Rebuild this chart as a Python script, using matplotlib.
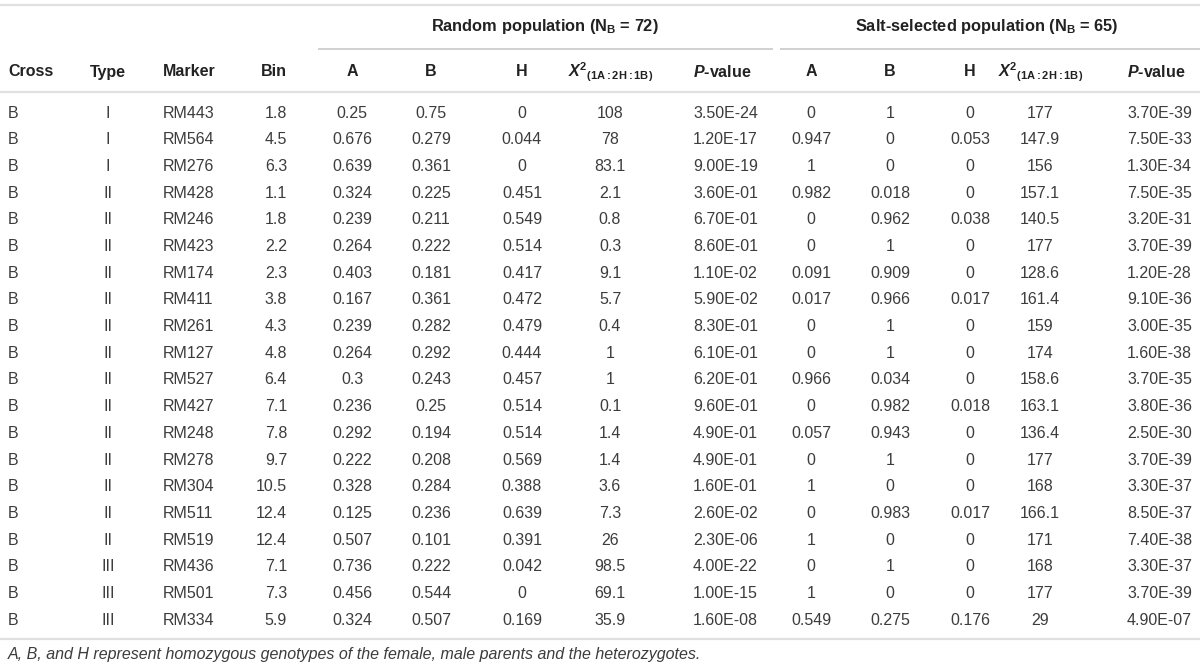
import matplotlib
matplotlib.use("Agg")
import matplotlib.pyplot as plt

plt.rcParams['font.family'] = ['Liberation Sans', 'DejaVu Sans']
plt.rcParams['mathtext.fontset'] = 'custom'
plt.rcParams['mathtext.rm'] = 'Liberation Sans'
plt.rcParams['mathtext.it'] = 'Liberation Sans:italic'
plt.rcParams['mathtext.bf'] = 'Liberation Sans:bold'
plt.rcParams['mathtext.bfit'] = 'Liberation Sans:bold:italic'

# ---------------- data ----------------
cross = ["B"] * 20
types = ["I", "I", "I"] + ["II"] * 14 + ["III"] * 3
markers = ["RM443", "RM564", "RM276", "RM428", "RM246", "RM423", "RM174", "RM411",
           "RM261", "RM127", "RM527", "RM427", "RM248", "RM278", "RM304", "RM511",
           "RM519", "RM436", "RM501", "RM334"]
bins = ["1.8", "4.5", "6.3", "1.1", "1.8", "2.2", "2.3", "3.8", "4.3", "4.8", "6.4",
        "7.1", "7.8", "9.7", "10.5", "12.4", "12.4", "7.1", "7.3", "5.9"]

rand_A = ["0.25", "0.676", "0.639", "0.324", "0.239", "0.264", "0.403", "0.167", "0.239",
          "0.264", "0.3", "0.236", "0.292", "0.222", "0.328", "0.125", "0.507", "0.736",
          "0.456", "0.324"]
rand_B = ["0.75", "0.279", "0.361", "0.225", "0.211", "0.222", "0.181", "0.361", "0.282",
          "0.292", "0.243", "0.25", "0.194", "0.208", "0.284", "0.236", "0.101", "0.222",
          "0.544", "0.507"]
rand_H = ["0", "0.044", "0", "0.451", "0.549", "0.514", "0.417", "0.472", "0.479", "0.444",
          "0.457", "0.514", "0.514", "0.569", "0.388", "0.639", "0.391", "0.042", "0",
          "0.169"]
rand_X2 = ["108", "78", "83.1", "2.1", "0.8", "0.3", "9.1", "5.7", "0.4", "1", "1", "0.1",
           "1.4", "1.4", "3.6", "7.3", "26", "98.5", "69.1", "35.9"]
rand_P = ["3.50E-24", "1.20E-17", "9.00E-19", "3.60E-01", "6.70E-01", "8.60E-01",
          "1.10E-02", "5.90E-02", "8.30E-01", "6.10E-01", "6.20E-01", "9.60E-01",
          "4.90E-01", "4.90E-01", "1.60E-01", "2.60E-02", "2.30E-06", "4.00E-22",
          "1.00E-15", "1.60E-08"]

salt_A = ["0", "0.947", "1", "0.982", "0", "0", "0.091", "0.017", "0", "0", "0.966", "0",
          "0.057", "0", "1", "0", "1", "0", "1", "0.549"]
salt_B = ["1", "0", "0", "0.018", "0.962", "1", "0.909", "0.966", "1", "1", "0.034",
          "0.982", "0.943", "1", "0", "0.983", "0", "1", "0", "0.275"]
salt_H = ["0", "0.053", "0", "0", "0.038", "0", "0", "0.017", "0", "0", "0", "0.018", "0",
          "0", "0", "0.017", "0", "0", "0", "0.176"]
salt_X2 = ["177", "147.9", "156", "157.1", "140.5", "177", "128.6", "161.4", "159", "174",
           "158.6", "163.1", "136.4", "177", "168", "166.1", "171", "168", "177", "29"]
salt_P = ["3.70E-39", "7.50E-33", "1.30E-34", "7.50E-35", "3.20E-31", "3.70E-39",
          "1.20E-28", "9.10E-36", "3.00E-35", "1.60E-38", "3.70E-35", "3.80E-36",
          "2.50E-30", "3.70E-39", "3.30E-37", "8.50E-37", "7.40E-38", "3.30E-37",
          "3.70E-39", "4.90E-07"]

group_titles = [r"Random population (N$_{\mathbf{B}}$ = 72)",
                r"Salt-selected population (N$_{\mathbf{B}}$ = 65)"]
footnote = "A, B, and H represent homozygous genotypes of the female, male parents and the heterozygotes."

# ---------------- layout ----------------
W, H = 1200, 670
fig = plt.figure(figsize=(W / 100, H / 100), dpi=100)
ax = fig.add_axes([0, 0, 1, 1])
ax.set_xlim(0, W)
ax.set_ylim(H, 0)
ax.axis("off")

body_c = "#3c3c3c"
head_c = "#222222"
line_c = "#e0e0e0"
gline_c = "#c4c4c4"
fs = 11.5

y_top = 5
y_group = 27
y_gline = 49
y_head = 72
y_hline = 92
y0 = 113
dy = 26.7
n = len(markers)
y_bline = 639
y_foot = 655

def hline(x1, x2, y, c=line_c, lw=1.6):
    ax.plot([x1, x2], [y, y], color=c, lw=lw, solid_capstyle="butt")

hline(0, W, y_top)
hline(318, 773, y_gline, gline_c, 1.1)
hline(780, W, y_gline, gline_c, 1.1)
hline(0, W, y_hline)
hline(0, W, y_bline)

ax.text(545, y_group, group_titles[0], ha="center", va="center", fontsize=fs + 0.3,
        fontweight="bold", color=head_c)
ax.text(987, y_group, group_titles[1], ha="center", va="center", fontsize=fs + 0.3,
        fontweight="bold", color=head_c)

x2_label = r"$\mathbfit{X}^{\mathbf{2}}{}_{\mathbf{(1A{:}2H{:}1B)}}$"
p_label = r"$\mathbfit{P}$-value"

# columns: (header, values, x, align)
columns = [
    ("Cross", cross, 8, "left"),
    ("Type", types, 108, "center"),
    ("Marker", markers, 163, "left"),
    ("Bin", bins, 287, "right"),
    ("A", rand_A, 352, "center"),
    ("B", rand_B, 431, "center"),
    ("H", rand_H, 522, "center"),
    (x2_label, rand_X2, 610, "center"),
    (p_label, rand_P, 693, "left"),
    ("A", salt_A, 811, "center"),
    ("B", salt_B, 890, "center"),
    ("H", salt_H, 970, "center"),
    (x2_label, salt_X2, 1040, "center"),
    (p_label, salt_P, 1127, "left"),
]

for head, vals, x, ha in columns:
    if head == x2_label:
        ax.text(x - 42, y_head, head, ha="left", va="center", fontsize=fs,
                fontweight="bold", color=head_c)
    else:
        ax.text(x, y_head, head, ha=ha, va="center", fontsize=fs,
                fontweight="bold", color=head_c)
    for i, v in enumerate(vals):
        ax.text(x, y0 + i * dy, v, ha=ha, va="center", fontsize=fs, color=body_c)

ax.text(8, y_foot, footnote, ha="left", va="center", fontsize=fs, style="italic",
        color=body_c)

fig.savefig("out.png", dpi=100)
